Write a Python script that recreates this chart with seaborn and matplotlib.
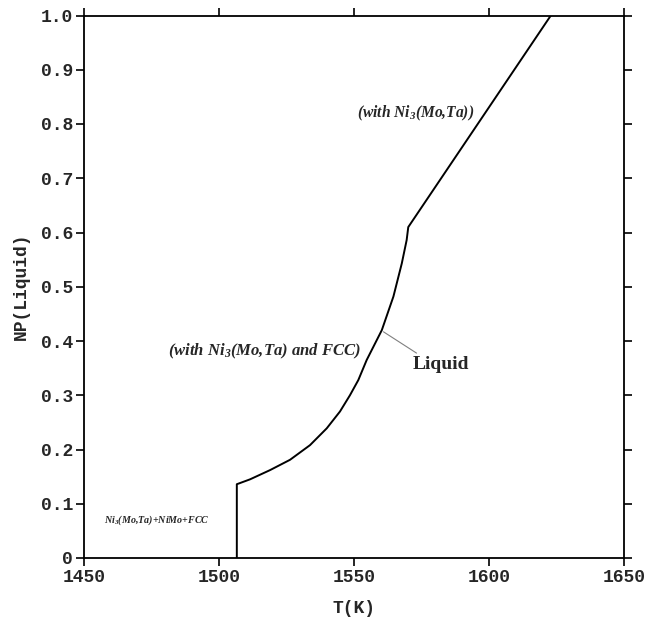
import matplotlib
matplotlib.use("Agg")
import matplotlib.pyplot as plt
import seaborn as sns
import pandas as pd

# data
temperature = [1506.6, 1506.6, 1511.5, 1518.9, 1526.3, 1533.7, 1539.9, 1544.8,
               1548.5, 1551.6, 1554.7, 1560.3, 1564.6, 1567.7, 1569.5, 1570.1,
               1596.5, 1622.9]
np_liquid = [0.0, 0.136, 0.145, 0.162, 0.181, 0.208, 0.239, 0.270,
             0.300, 0.328, 0.365, 0.420, 0.482, 0.543, 0.586, 0.610,
             0.805, 1.0]
x_ticks = [1450, 1500, 1550, 1600, 1650]
y_ticks = [0, 0.1, 0.2, 0.3, 0.4, 0.5, 0.6, 0.7, 0.8, 0.9, 1.0]
y_tick_labels = ["0", "0.1", "0.2", "0.3", "0.4", "0.5", "0.6", "0.7", "0.8", "0.9", "1.0"]

sns.set_theme(style="white")
plt.rcParams["mathtext.fontset"] = "custom"
plt.rcParams["mathtext.rm"] = "Liberation Serif:bold:italic"
plt.rcParams["mathtext.it"] = "Liberation Serif:bold:italic"
plt.rcParams["mathtext.bf"] = "Liberation Serif:bold:italic"

df = pd.DataFrame({"T": temperature, "NP": np_liquid})

fig = plt.figure(figsize=(6.47, 6.18), dpi=100)
ax = fig.add_axes([84 / 647, 60 / 618, 540 / 647, 542.5 / 618])

sns.lineplot(data=df, x="T", y="NP", sort=False, estimator=None,
             color="black", linewidth=1.4, ax=ax)

ax.set_xlim(1450, 1650)
ax.set_ylim(0, 1.0)
ax.set_xticks(x_ticks)
ax.set_yticks(y_ticks)
ax.set_yticklabels(y_tick_labels)

mono = {"family": "Liberation Mono", "weight": "bold", "size": 13}
for lab in ax.get_xticklabels() + ax.get_yticklabels():
    lab.set_fontfamily("Liberation Mono")
    lab.set_fontweight("bold")
    lab.set_fontsize(13)

ax.tick_params(axis="both", which="both", direction="out", length=6, width=1.2,
               color="black", top=True, right=True, bottom=True, left=True,
               labeltop=False, labelright=False, pad=2)
for s in ax.spines.values():
    s.set_color("black")
    s.set_linewidth(1.3)
    s.set_visible(True)

ax.set_xlabel("T(K)", fontdict=mono, labelpad=10)
ax.set_ylabel("NP(Liquid)", fontdict=mono, labelpad=8)

serif_bi = {"family": "Liberation Serif", "weight": "bold", "style": "italic"}
ax.text(1551, 0.820, r"(with Ni$_3$(Mo,Ta))", fontsize=11.2, ha="left", va="center", **serif_bi)
ax.text(1516.7, 0.380, r"(with Ni$_3$(Mo,Ta) and FCC)", fontsize=12, ha="center", va="center", **serif_bi)
ax.text(1457.3, 0.070, r"Ni$_3$(Mo,Ta)+NiMo+FCC", fontsize=7.2, ha="left", va="center", **serif_bi)

ax.annotate("Liquid", xy=(1560.9, 0.417), xytext=(1571.9, 0.356),
            fontsize=14, fontweight="bold", family="Liberation Serif",
            ha="left", va="center",
            arrowprops=dict(arrowstyle="-", color="gray", lw=0.8,
                            shrinkA=0, shrinkB=0, relpos=(0.15, 1.0)))

fig.savefig("out.png", dpi=100)
